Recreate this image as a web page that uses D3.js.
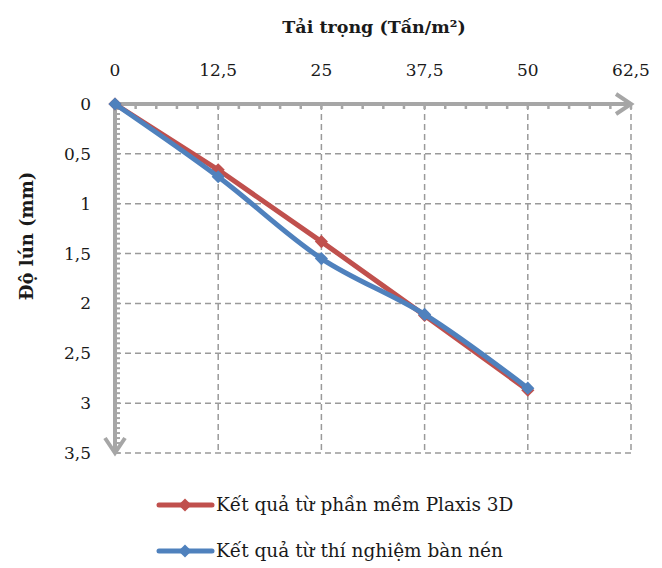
<!DOCTYPE html>
<html><head><meta charset="utf-8">
<script src="https://cdn.jsdelivr.net/npm/d3@7/dist/d3.min.js"></script>
<style>body{margin:0;background:#fff}svg{display:block}text{font-family:"DejaVu Serif",serif;fill:#1a1a1a}</style>
</head><body><svg id="c" width="662" height="568"></svg>
<script>
const loads = [0, 12.5, 25, 37.5, 50];
const plaxis = [0, 0.66, 1.38, 2.12, 2.87];
const plateTest = [0, 0.73, 1.55, 2.11, 2.85];
const xTicks = [0, 12.5, 25, 37.5, 50, 62.5];
const yTicks = [0, 0.5, 1, 1.5, 2, 2.5, 3, 3.5];
const seriesNames = ["Kết quả từ phần mềm Plaxis 3D", "Kết quả từ thí nghiệm bàn nén"];
const colors = ["#C0504D", "#4F81BD"];

const svg = d3.select("#c");
const x = d3.scaleLinear().domain([0, 62.5]).range([115, 631]);
const y = d3.scaleLinear().domain([0, 3.5]).range([104, 453]);
const fmt = d => String(d).replace(".", ",");
const grey = "#a6a6a6";

// grid
const g = svg.append("g");
g.selectAll(".vg").data(xTicks.slice(1)).enter().append("line")
  .attr("x1", d => x(d)).attr("x2", d => x(d)).attr("y1", y(0)).attr("y2", y(3.5))
  .attr("stroke", "#9a9a9a").attr("stroke-width", 1.5).attr("stroke-dasharray", "6,4");
g.selectAll(".hg").data(yTicks.slice(1)).enter().append("line")
  .attr("x1", x(0)).attr("x2", x(62.5)).attr("y1", d => y(d)).attr("y2", d => y(d))
  .attr("stroke", "#9a9a9a").attr("stroke-width", 1.5).attr("stroke-dasharray", "6,4");

// minor ticks
const xMinor = d3.range(0, 62.5 + 0.001, 2.5);
g.selectAll(".xm").data(xMinor).enter().append("line")
  .attr("x1", d => x(d)).attr("x2", d => x(d)).attr("y1", y(0)).attr("y2", y(0) + 5)
  .attr("stroke", grey).attr("stroke-width", 2.5);
const yMinor = d3.range(0, 3.5 + 0.001, 0.05);
g.selectAll(".ym").data(yMinor).enter().append("line")
  .attr("x1", x(0)).attr("x2", x(0) + 5).attr("y1", d => y(d)).attr("y2", d => y(d))
  .attr("stroke", grey).attr("stroke-width", 2);

// axes
g.append("line").attr("x1", x(0)).attr("x2", x(62.5)).attr("y1", y(0)).attr("y2", y(0))
  .attr("stroke", grey).attr("stroke-width", 4);
g.append("line").attr("x1", x(0)).attr("x2", x(0)).attr("y1", y(0)).attr("y2", y(3.5))
  .attr("stroke", grey).attr("stroke-width", 4);
g.append("path").attr("d", `M${x(62.5)-15},${y(0)-10}L${x(62.5)},${y(0)}L${x(62.5)-15},${y(0)+10}`)
  .attr("fill", "none").attr("stroke", grey).attr("stroke-width", 4);
g.append("path").attr("d", `M${x(0)-10},${y(3.5)-15}L${x(0)},${y(3.5)}L${x(0)+10},${y(3.5)-15}`)
  .attr("fill", "none").attr("stroke", grey).attr("stroke-width", 4);

// tick labels
svg.selectAll(".xl").data(xTicks).enter().append("text")
  .attr("x", d => x(d)).attr("y", 76).attr("text-anchor", "middle")
  .attr("font-size", 17).text(fmt);
svg.selectAll(".yl").data(yTicks).enter().append("text")
  .attr("x", 91).attr("y", d => y(d) + 6).attr("text-anchor", "end")
  .attr("font-size", 17).text(fmt);

// titles
svg.append("text").attr("x", 374).attr("y", 33).attr("text-anchor", "middle")
  .attr("font-size", 17.5).attr("font-weight", "bold").text("Tải trọng (Tấn/m²)");
svg.append("text").attr("transform", "translate(33,236) rotate(-90)").attr("text-anchor", "middle")
  .attr("font-size", 18).attr("font-weight", "bold").text("Độ lún (mm)");

// series
const series = [plaxis, plateTest];
const curves = [d3.curveLinear, d3.curveCatmullRom.alpha(0.5)];
const diamond = d3.symbol().type(d3.symbolDiamond2).size(110);
series.forEach((vals, i) => {
  const pts = loads.map((l, j) => [l, vals[j]]);
  const line = d3.line().x(d => x(d[0])).y(d => y(d[1])).curve(curves[i]);
  svg.append("path").datum(pts).attr("d", line).attr("fill", "none")
    .attr("stroke", colors[i]).attr("stroke-width", 5).attr("stroke-linejoin", "round");
  svg.selectAll(".m" + i).data(pts).enter().append("path")
    .attr("transform", d => `translate(${x(d[0])},${y(d[1])})`)
    .attr("d", diamond).attr("fill", colors[i]);
});

// legend
const ly = [505, 551];
seriesNames.forEach((n, i) => {
  svg.append("line").attr("x1", 159).attr("x2", 212).attr("y1", ly[i]).attr("y2", ly[i])
    .attr("stroke", colors[i]).attr("stroke-width", 5).attr("stroke-linecap", "round");
  svg.append("path").attr("transform", `translate(185,${ly[i]})`).attr("d", diamond).attr("fill", colors[i]);
  svg.append("text").attr("x", 216).attr("y", ly[i] + 6).attr("font-size", 18.5).text(n);
});
</script></body></html>
